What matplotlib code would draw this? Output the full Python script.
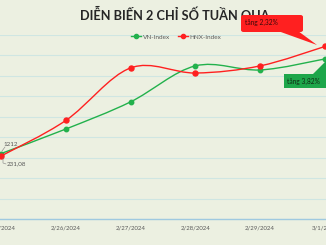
import matplotlib
matplotlib.use("Agg")
import matplotlib.pyplot as plt
from matplotlib.path import Path
from matplotlib.patches import PathPatch, Polygon, FancyBboxPatch
from matplotlib.lines import Line2D
import numpy as np

# --- data ---
dates = ['2/23/2024', '2/26/2024', '2/27/2024', '2/28/2024', '2/29/2024', '3/1/2024']
vn_index = [1212.0, 1224.0, 1237.3, 1254.9, 1252.9, 1258.3]
hnx_index = [231.08, 232.82, 235.39, 235.14, 235.49, 236.44]

W, H = 326, 245
BG = '#ECF0E1'
GREEN = '#22B14C'
RED = '#FF2020'
GRID = '#CFE6E2'
TXT = '#595959'


def px(x, y):
    # pixel (top-left origin) -> figure fraction
    return x / W, 1 - y / H


def smooth_path(xs, ys):
    # Excel-style smoothed line: cubic bezier through every point
    pts = np.column_stack([xs, ys]).astype(float)
    ext = np.vstack([pts[0], pts, pts[-1]])
    verts = [pts[0]]
    codes = [Path.MOVETO]
    for i in range(len(pts) - 1):
        p0, p1, p2, p3 = ext[i], ext[i + 1], ext[i + 2], ext[i + 3]
        verts += [p1 + (p2 - p0) / 6, p2 - (p3 - p1) / 6, p2]
        codes += [Path.CURVE4] * 3
    return Path(verts, codes)


fig = plt.figure(figsize=(W / 100, H / 100), dpi=100)
fig.patch.set_facecolor(BG)

left, bottom = px(0, 219)
right, top = px(W, 35)
ax = fig.add_axes([left, bottom, right - left, top - bottom])
ax.set_facecolor(BG)
ax2 = ax.twinx()

x = np.arange(len(dates))
ax.set_xlim(-1 / 64.8, 5 + 1 / 64.8)
ax.set_ylim(1180, 1270)
ax2.set_ylim(228, 237)
ax.set_yticks(np.arange(1180, 1271, 10))
ax2.set_yticks([])
ax.yaxis.grid(True, color=GRID, lw=0.8)
ax.set_axisbelow(True)
ax.tick_params(axis='y', length=0, labelleft=False)
ax.set_xticks(x)
ax.set_xticklabels(dates, fontsize=4.3, color=TXT, family='Lato')
ax.tick_params(axis='x', length=0, pad=5)
for a in (ax, ax2):
    for s in a.spines.values():
        s.set_visible(False)
ax.spines['bottom'].set_visible(True)
ax.spines['bottom'].set_color('#9FC9E0')
ax.spines['bottom'].set_linewidth(1.0)

ax.add_patch(PathPatch(smooth_path(x, vn_index), fill=False, ec=GREEN, lw=1.0,
                       clip_on=False, zorder=3))
ax.plot(x, vn_index, 'o', color=GREEN, ms=3.2, clip_on=False, zorder=4)
ax2.add_patch(PathPatch(smooth_path(x, hnx_index), fill=False, ec=RED, lw=1.0,
                        clip_on=False, zorder=3))
ax2.plot(x, hnx_index, 'o', color=RED, ms=3.6, clip_on=False, zorder=4)

# data labels for the first day
fig.text(*px(3, 144), '1212', fontsize=4.5, color=TXT, family='Lato', va='center')
fig.text(*px(7, 164), '231,08', fontsize=4.5, color=TXT, family='Lato', va='center')
fig.add_artist(Line2D([px(2, 151)[0], px(5, 147)[0]], [px(2, 151)[1], px(5, 147)[1]],
                      color='#7F7F7F', lw=0.4))
fig.add_artist(Line2D([px(3, 158)[0], px(3, 163)[0], px(6, 164)[0]],
                      [px(3, 158)[1], px(3, 163)[1], px(6, 164)[1]],
                      color='#7F7F7F', lw=0.4))

# title
fig.text(*px(175, 14), 'DIỄN BIẾN 2 CHỈ SỐ TUẦN QUA', fontsize=9.2, fontweight='bold',
         color='#262626', family=['Liberation Sans Narrow', 'Lato'],
         ha='center', va='center', zorder=1)

# legend
handles = [Line2D([], [], color=GREEN, marker='o', ms=3, lw=1.0),
           Line2D([], [], color=RED, marker='o', ms=3, lw=1.0)]
fig.legend(handles, ['VN-Index', 'HNX-Index'], loc='center', bbox_to_anchor=px(176, 37),
           ncol=2, frameon=False, handlelength=1.6, handletextpad=0.3, columnspacing=1.2,
           prop={'family': 'Lato', 'size': 4.6}, labelcolor=TXT)

# callouts
x0, y0 = px(241, 32)
x1, y1 = px(303, 15)
fig.add_artist(FancyBboxPatch((x0, y0), x1 - x0, y1 - y0,
                              boxstyle='round,pad=0,rounding_size=0.008',
                              fc=RED, ec='none', transform=fig.transFigure, zorder=5))
fig.add_artist(Polygon([px(278, 31), px(298, 31), px(317, 45)], closed=True,
                       fc=RED, ec='none', transform=fig.transFigure, zorder=5))
fig.text(*px(245, 22), 'tăng 2,32%', fontsize=4.8, color='#3A0A0A', family='Lato',
         va='center', zorder=6)

x0, y0 = px(284, 88)
x1, y1 = px(330, 74)
fig.add_artist(FancyBboxPatch((x0, y0), x1 - x0, y1 - y0,
                              boxstyle='square,pad=0', fc='#1DA64A', ec='none',
                              transform=fig.transFigure, zorder=5))
fig.add_artist(Polygon([px(312, 75), px(327, 75), px(327, 60)], closed=True,
                       fc='#1DA64A', ec='none', transform=fig.transFigure, zorder=5))
fig.text(*px(287, 81), 'tăng 3,82%', fontsize=4.8, color='#0F2A14', family='Lato',
         va='center', zorder=6)

fig.savefig('out.png', dpi=100, facecolor=BG)
